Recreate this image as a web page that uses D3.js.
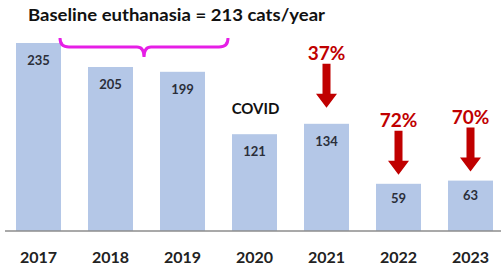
<!DOCTYPE html>
<html>
<head>
<meta charset="utf-8">
<script src="https://cdn.jsdelivr.net/npm/d3@7"></script>
<style>
  body { margin: 0; background: #fff; }
  svg { display: block; font-family: Lato, "Open Sans", sans-serif; }
</style>
</head>
<body>
<svg id="chart" width="501" height="270"></svg>
<script>
// data
const years = ["2017", "2018", "2019", "2020", "2021", "2022", "2023"];
const cats = [235, 205, 199, 121, 134, 59, 63];
const dropYears = ["2021", "2022", "2023"];
const dropLabels = ["37%", "72%", "70%"];
const baselineYears = ["2017", "2018", "2019"];
const titleText = "Baseline euthanasia = 213 cats/year";

const svg = d3.select("#chart");
const width = 501, height = 270;
const baseY = 231;

const x = d3.scaleBand()
    .domain(years)
    .range([16, 493])
    .paddingInner(0.375)
    .paddingOuter(0);

const y = d3.scaleLinear()
    .domain([0, 250])
    .range([baseY, baseY - 200]);

const data = years.map((yr, i) => ({ year: yr, value: cats[i] }));

// bars
svg.selectAll("rect.bar")
    .data(data)
    .enter()
    .append("rect")
    .attr("class", "bar")
    .attr("x", d => x(d.year))
    .attr("y", d => y(d.value))
    .attr("width", x.bandwidth())
    .attr("height", d => y(0) - y(d.value))
    .attr("fill", "#b4c7e7");

// value labels inside the bars
svg.selectAll("text.val")
    .data(data)
    .enter()
    .append("text")
    .attr("class", "val")
    .attr("x", d => x(d.year) + x.bandwidth() / 2)
    .attr("y", d => y(d.value) + (d.value > 100 ? 22 : 19))
    .attr("text-anchor", "middle")
    .attr("font-size", "13px")
    .attr("font-weight", "bold")
    .attr("fill", "#2b2f3a")
    .text(d => d.value);

// axis line and year labels
const xAxis = svg.append("g")
    .attr("transform", `translate(0, ${baseY})`)
    .call(d3.axisBottom(x).tickSize(0).tickPadding(21));
xAxis.select(".domain").remove();
svg.append("line")
    .attr("x1", 5).attr("x2", width)
    .attr("y1", baseY).attr("y2", baseY)
    .attr("stroke", "#8c8c8c")
    .attr("stroke-width", 1.5);
xAxis.selectAll("text")
    .attr("font-family", "Lato, 'Open Sans', sans-serif")
    .attr("font-size", "16px")
    .attr("font-weight", "bold")
    .attr("fill", "#222");

// title
svg.append("text")
    .attr("x", 28)
    .attr("y", 21)
    .attr("font-size", "17px")
    .attr("font-weight", "bold")
    .attr("fill", "#111")
    .attr("textLength", 297)
    .attr("lengthAdjust", "spacingAndGlyphs")
    .text(titleText);

// magenta brace over the baseline years
const bx0 = x(baselineYears[0]) + x.bandwidth() - 1;
const bx1 = x("2020") - 4;
const bm = (bx0 + bx1) / 2;
const braceTop = 38, braceMid = 47, braceTip = 57;
const brace = d3.path();
brace.moveTo(bx0, braceTop);
brace.quadraticCurveTo(bx0, braceMid, bx0 + 9, braceMid);
brace.lineTo(bm - 7, braceMid);
brace.quadraticCurveTo(bm, braceMid, bm, braceTip);
brace.quadraticCurveTo(bm, braceMid, bm + 7, braceMid);
brace.lineTo(bx1 - 9, braceMid);
brace.quadraticCurveTo(bx1, braceMid, bx1, braceTop);
svg.append("path")
    .attr("d", brace.toString())
    .attr("fill", "none")
    .attr("stroke", "#e61ee6")
    .attr("stroke-width", 3);

// COVID note above the 2020 bar
svg.append("text")
    .attr("x", x("2020") + x.bandwidth() / 2 + 1)
    .attr("y", 114)
    .attr("text-anchor", "middle")
    .attr("font-size", "15px")
    .attr("font-weight", "bold")
    .attr("fill", "#111")
    .text("COVID");

// red drop arrows with percentages
const drops = dropYears.map((yr, i) => ({
    year: yr,
    label: dropLabels[i],
    value: cats[years.indexOf(yr)]
}));

const arrowLen = 44, shaftW = 8, headW = 21, headH = 14;
const dropG = svg.selectAll("g.drop")
    .data(drops)
    .enter()
    .append("g")
    .attr("class", "drop")
    .attr("transform", d => {
        const cx = x(d.year) + x.bandwidth() / 2;
        const tipY = y(d.value) - (d.value > 100 ? 16 : 9);
        return `translate(${cx}, ${tipY})`;
    });

dropG.append("path")
    .attr("d", () => {
        const s = shaftW / 2, h = headW / 2;
        return `M${-s},${-arrowLen} L${s},${-arrowLen} L${s},${-headH} L${h},${-headH} L0,0 L${-h},${-headH} L${-s},${-headH} Z`;
    })
    .attr("fill", "#c00000");

dropG.append("text")
    .attr("x", 0)
    .attr("y", -arrowLen - 4)
    .attr("text-anchor", "middle")
    .attr("font-size", "19px")
    .attr("font-weight", "bold")
    .attr("fill", "#c00000")
    .text(d => d.label);
</script>
</body>
</html>
